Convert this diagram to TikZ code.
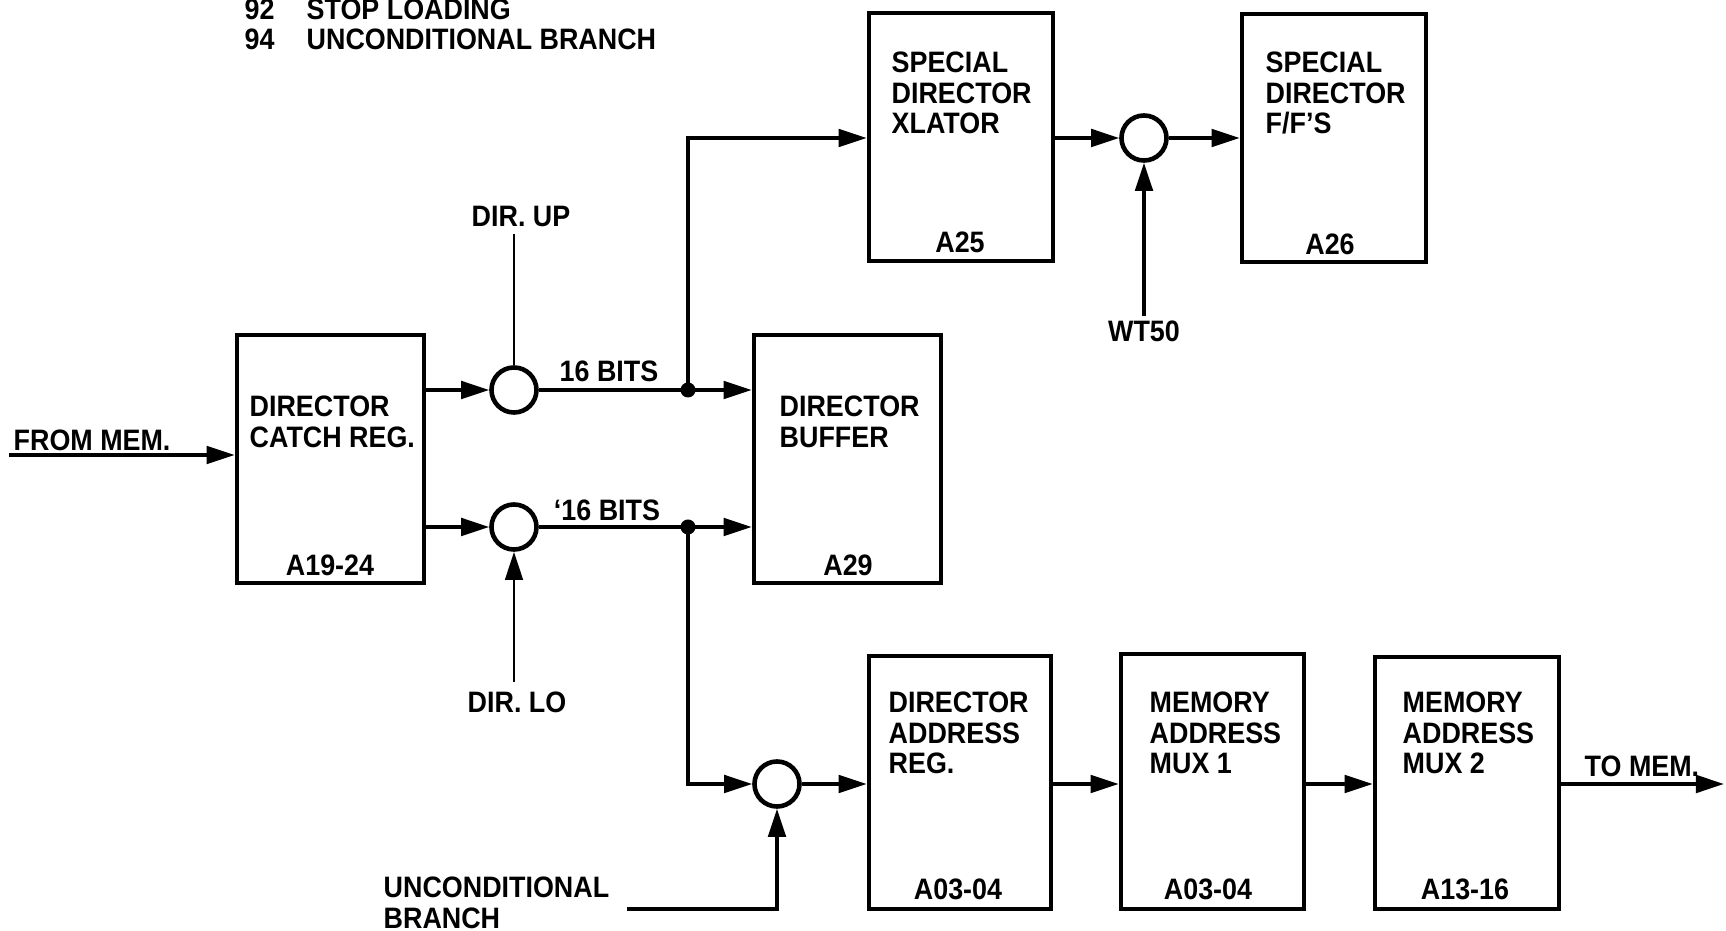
\documentclass[tikz,border=0pt]{standalone}
\usepackage{fontspec}
\setmainfont{Liberation Sans}[FakeStretch=0.91]
\usetikzlibrary{arrows.meta}
\newcommand{\mylines}[1]{\begin{tabular}[t]{@{}l@{}}#1\end{tabular}}
\begin{document}
\begin{tikzpicture}[x=0.01cm,y=-0.01cm,
  font=\bfseries\fontsize{8.4}{8.6}\selectfont,
  blk/.style={draw, line width=1.3pt, inner sep=0, minimum width=1.84cm, minimum height=2.48cm},
  jn/.style={circle, draw, line width=1.3pt, inner sep=0, minimum size=0.45cm},
  con/.style={line width=1pt},
  thin/.style={line width=0.8pt},
  arr/.style={con, -{Triangle[length=8pt,width=5pt]}},
  dot/.style={circle, fill, inner sep=0, minimum size=0.15cm},
  txt/.style={inner sep=0, anchor=base west},
  ctxt/.style={inner sep=0, anchor=base},
]
\useasboundingbox (0,0) rectangle (1726,931);
% header
\node[txt] (n92) at (244,20) {92};
\node[txt] (t92) at (306,20) {STOP LOADING};
\node[txt] (n94) at (244,50) {94};
\node[txt] (t94) at (306,50) {UNCONDITIONAL BRANCH};
% boxes
\node[blk, minimum width=1.87cm] (cr) at (330.5,459) {};
\node[blk, minimum width=1.87cm] (buf) at (847.5,459) {};
\node[blk] (a25) at (961,137) {};
\node[blk] (a26) at (1334,138) {};
\node[blk, minimum width=1.82cm, minimum height=2.53cm] (dar) at (960,782.5) {};
\node[blk, minimum width=1.83cm, minimum height=2.55cm] (m1) at (1212.5,781.5) {};
\node[blk, minimum height=2.52cm] (m2) at (1467,783) {};
% box texts
\node[txt] (crt) at (249,417) {\mylines{DIRECTOR\\CATCH REG.}};
\node[ctxt] (crb) at (330,576) {A19-24};
\node[txt] (buft) at (779,417) {\mylines{DIRECTOR\\BUFFER}};
\node[ctxt] (bufb) at (848,576) {A29};
\node[txt] (a25t) at (891,73) {\mylines{SPECIAL\\DIRECTOR\\XLATOR}};
\node[ctxt] (a25b) at (960,253) {A25};
\node[txt] (a26t) at (1265,73) {\mylines{SPECIAL\\DIRECTOR\\F/F'S}};
\node[ctxt] (a26b) at (1330,255) {A26};
\node[txt] (dart) at (888,713) {\mylines{DIRECTOR\\ADDRESS\\REG.}};
\node[ctxt] (darb) at (958,900) {A03-04};
\node[txt] (m1t) at (1149,713) {\mylines{MEMORY\\ADDRESS\\MUX 1}};
\node[ctxt] (m1b) at (1208,900) {A03-04};
\node[txt] (m2t) at (1402,713) {\mylines{MEMORY\\ADDRESS\\MUX 2}};
\node[ctxt] (m2b) at (1465,900) {A13-16};
% junction circles and dots
\node[jn] (up) at (514,390) {};
\node[jn] (lo) at (514,527) {};
\node[jn] (wt) at (1144,138) {};
\node[jn] (bc) at (777,784) {};
\node[dot] (d1) at (688,390) {};
\node[dot] (d2) at (688,527) {};
% labels
\node[ctxt] (dirup) at (521,227) {DIR. UP};
\node[ctxt] (dirlo) at (517,713) {DIR. LO};
\node[ctxt] (wtl) at (1144,342) {WT50};
\node[ctxt] (b1) at (609,382) {16 BITS};
\node[ctxt] (b2) at (607,521) {`16 BITS};
\node[txt] (fm) at (13,451) {FROM MEM.};
\node[txt] (tm) at (1584,777) {TO MEM.};
\node[txt] (ub) at (383,898) {\mylines{UNCONDITIONAL\\BRANCH}};
% free ends
\coordinate (frm) at (9,455);
\coordinate (tomem) at (1724,784);
\coordinate (upc) at (514,234);
\coordinate (loc) at (514,682);
\coordinate (wtc) at (1144,316);
\coordinate (ubc) at (627,909);
% connectors
\draw[arr] (frm) -- (cr.west |- frm);
\draw[arr] (cr.east |- up) -- (up.west);
\draw[arr] (cr.east |- lo) -- (lo.west);
\draw[thin] (upc) -- (up.north);
\draw[arr, thin] (loc) -- (lo.south);
\draw[con] (up.east) -- (d1.center);
\draw[arr] (d1.center) -- (buf.west |- d1);
\draw[con] (lo.east) -- (d2.center);
\draw[arr] (d2.center) -- (buf.west |- d2);
\draw[arr] (d1.center) |- (a25.west |- wt);
\draw[arr] (a25.east |- wt) -- (wt.west);
\draw[arr] (wt.east) -- (a26.west |- wt);
\draw[arr] (wtc) -- (wt.south);
\draw[arr] (d2.center) |- (bc.west);
\draw[arr] (ubc) -| (bc.south);
\draw[arr] (bc.east) -- (dar.west |- bc);
\draw[arr] (dar.east |- bc) -- (m1.west |- bc);
\draw[arr] (m1.east |- bc) -- (m2.west |- bc);
\draw[arr] (m2.east |- bc) -- (tomem);
\end{tikzpicture}
\end{document}
